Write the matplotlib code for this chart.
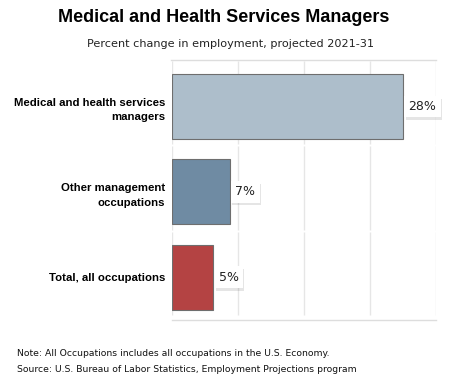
import matplotlib.pyplot as plt
import matplotlib.patheffects as pe
from matplotlib.lines import Line2D

categories = ['Medical and health services\nmanagers', 'Other management\noccupations', 'Total, all occupations']
values = [28, 7, 5]
bar_colors = ['#adbecb', '#6f8ba3', '#b44343']
xticks = [0, 8, 16, 24, 32]

title = 'Medical and Health Services Managers'
subtitle = 'Percent change in employment, projected 2021-31'
note = 'Note: All Occupations includes all occupations in the U.S. Economy.'
source = 'Source: U.S. Bureau of Labor Statistics, Employment Projections program'

W, H = 452, 386
fig = plt.figure(figsize=(W / 100, H / 100), dpi=100)
ax = fig.add_axes([172 / W, 1 - 316 / H, 264 / W, 256 / H])

pos = list(range(len(categories)))
shift = 0.045  # bars sit slightly low in their bands
bar_pos = [p + shift for p in pos]
ax.barh(bar_pos, values, height=0.76, color=bar_colors, edgecolor='#6e6e6e', linewidth=0.8, zorder=3)

# gridlines broken between category bands
gap = 0.012
for i in pos:
    ax.vlines(xticks, i - 0.5 + gap, i + 0.5 - gap, color='#e6e6e6', linewidth=1, zorder=1)

ax.set_xlim(0, 32)
ax.set_ylim(len(categories) - 0.5, -0.5)
ax.set_xticks([])
ax.set_yticks(bar_pos)
ax.set_yticklabels(categories, fontsize=8.2, fontweight='bold', family='Liberation Sans',
                   linespacing=1.6)
ax.tick_params(axis='y', length=0, pad=5)
for s in ax.spines.values():
    s.set_visible(False)

for y, v in zip(bar_pos, values):
    t = ax.annotate(f'{v}%', (v, y), xytext=(4, 0), textcoords='offset points',
                    va='center', ha='left', fontsize=9, family='DejaVu Sans',
                    color='#222222', zorder=5,
                    bbox=dict(boxstyle='square,pad=0.34', facecolor='white', edgecolor='none'))
    t.get_bbox_patch().set_path_effects([
        pe.SimplePatchShadow(offset=(1, -2), shadow_rgbFace='#000000', alpha=0.1),
        pe.Normal()])

# top and bottom rules
fig.add_artist(Line2D([171 / W, 436 / W], [1 - 59.5 / H, 1 - 59.5 / H], color='#dddddd', linewidth=1))
fig.add_artist(Line2D([172 / W, 436 / W], [1 - 320 / H, 1 - 320 / H], color='#dddddd', linewidth=1))

fig.text(224 / W, 1 - 17 / H, title, ha='center', va='center', fontsize=13,
         fontweight='bold', family='Liberation Sans')
fig.text(231 / W, 1 - 44 / H, subtitle, ha='center', va='center', fontsize=8.1,
         family='DejaVu Sans', color='#222222')
fig.text(17 / W, 1 - 354 / H, note, ha='left', va='center', fontsize=6.65,
         family='DejaVu Sans', color='#111111')
fig.text(17 / W, 1 - 370 / H, source, ha='left', va='center', fontsize=6.65,
         family='DejaVu Sans', color='#111111')

fig.savefig('out.png', dpi=100, facecolor='white')
